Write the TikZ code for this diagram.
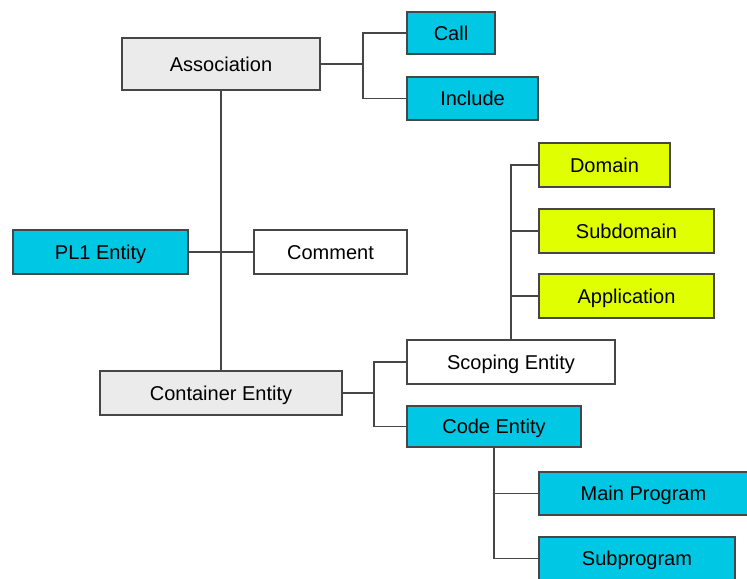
\documentclass[tikz,border=0pt]{standalone}
\usepackage{fontspec}
\setmainfont{Liberation Sans}
\usetikzlibrary{shadows}
\definecolor{boxcyan}{RGB}{0,200,228}
\definecolor{boxlime}{RGB}{224,255,0}
\definecolor{boxgray}{RGB}{235,235,235}
\definecolor{linegray}{RGB}{70,70,70}
\begin{document}
\begin{tikzpicture}[x=0.5pt,y=-0.5pt,
    box/.style={draw=linegray,line width=0.6pt,inner sep=0pt,font=\fontsize{10}{12}\selectfont,
        text height=7.2pt,text depth=0pt,
        drop shadow={shadow xshift=0.6pt,shadow yshift=-0.6pt,opacity=0.25}},
    cyanbox/.style={box,fill=boxcyan},
    limebox/.style={box,fill=boxlime},
    graybox/.style={box,fill=boxgray},
    whitebox/.style={box,fill=white},
    link/.style={draw=linegray,line width=0.6pt}]
\useasboundingbox (0,0) rectangle (747,578);
\clip (0,0) rectangle (747,578);

% top branch
\node[graybox,minimum width=99pt,minimum height=26pt] (assoc) at (221,64) {Association};
\node[cyanbox,minimum width=44pt,minimum height=21pt] (call) at (451,33) {Call};
\node[cyanbox,minimum width=65.5pt,minimum height=21.5pt] (include) at (472.5,98.5) {Include};

% middle
\node[cyanbox,minimum width=87.5pt,minimum height=22pt] (pl1) at (100.5,252) {PL1 Entity};
\node[whitebox,minimum width=76.5pt,minimum height=22pt] (comment) at (330.5,252) {Comment};

% scoping levels
\node[limebox,minimum width=65.5pt,minimum height=22pt] (domain) at (604.5,165) {Domain};
\node[limebox,minimum width=87.5pt,minimum height=22pt] (subdomain) at (626.5,231) {Subdomain};
\node[limebox,minimum width=87.5pt,minimum height=22pt] (appl) at (626.5,296) {Application};

% bottom branch
\node[graybox,minimum width=121pt,minimum height=22pt] (container) at (221,393) {Container Entity};
\node[whitebox,minimum width=104pt,minimum height=22pt] (scoping) at (511,362) {Scoping Entity};
\node[cyanbox,minimum width=87pt,minimum height=20.5pt] (code) at (494,426.5) {Code Entity};
\node[cyanbox,minimum width=104.5pt,minimum height=21.5pt] (mainprog) at (643.5,493.5) {Main Program};
\node[cyanbox,minimum width=98pt,minimum height=21.5pt] (subprog) at (637,558.5) {Subprogram};

\coordinate (j1) at (363,64);
\coordinate (j2) at (374,393);

\draw[link] (assoc.east)--(j1);
\draw[link] (call.west)-|(j1)|-(include.west);
\draw[link] (assoc.south)--(container.north);
\draw[link] (pl1.east)--(comment.west);

\draw[link] (container.east)--(j2);
\draw[link] (scoping.west)-|(j2)|-(code.west);

\draw[link] (scoping.north)|-(domain.west);
\draw[link] (scoping.north)|-(subdomain.west);
\draw[link] (scoping.north)|-(appl.west);

\draw[link] (code.south)|-(mainprog.west);
\draw[link] (code.south)|-(subprog.west);
\end{tikzpicture}
\end{document}
